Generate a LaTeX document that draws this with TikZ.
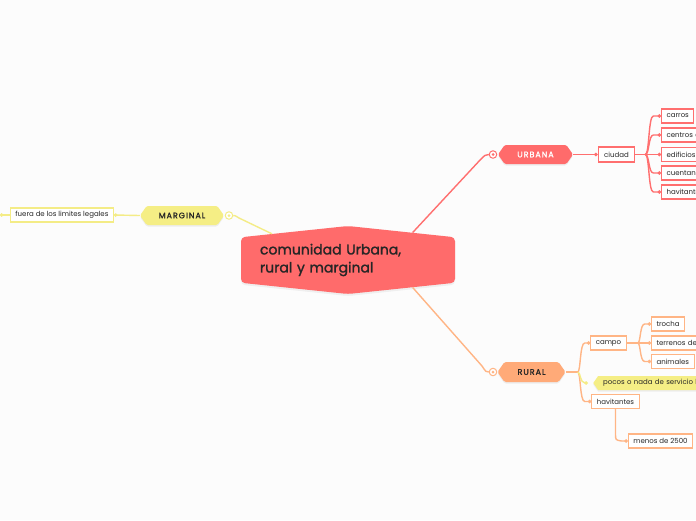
\documentclass[tikz,border=0pt]{standalone}
\usepackage{fontspec}
\setmainfont{Poppins}
\newfontfamily\capsfont[LetterSpace=12,FakeBold=1.2]{Poppins}
\newfontfamily\titlefont[FakeBold=1.5]{Poppins}
\usetikzlibrary{positioning,calc,arrows.meta,shapes.symbols,shadows}
\definecolor{bgcol}{HTML}{FCFCFC}
\definecolor{mred}{HTML}{FF6B6B}
\definecolor{mredl}{HTML}{FF6F6F}
\definecolor{morange}{HTML}{FFAA78}
\definecolor{morangel}{HTML}{FFB585}
\definecolor{myellow}{HTML}{F5EE85}
\definecolor{myellowl}{HTML}{F4EC86}
\definecolor{ink}{HTML}{262626}
\tikzset{
  rwire/.style  = {draw=mredl, line width=1.4pt},
  owire/.style  = {draw=morangel, line width=1.4pt},
  ywire/.style  = {draw=myellowl, line width=1.4pt},
  dtip/.style   = {-{Circle[length=3.4pt]}},
  hexn/.style   = {signal, signal to=east and west, signal pointer angle=110,
                   rounded corners=1.5pt, inner sep=0pt, minimum height=19pt,
                   font=\capsfont\fontsize{8}{9}\selectfont,
                   drop shadow={opacity=0.12, shadow xshift=0pt, shadow yshift=-1.5pt}},
  cnode/.style  = {signal, signal to=north and south, signal pointer angle=168,
                   fill=mred, rounded corners=4pt, minimum width=214pt,
                   minimum height=68pt, text width=176pt, align=left,
                   inner xsep=19pt, text=ink, font=\titlefont\fontsize{14}{18}\selectfont,
                   drop shadow={opacity=0.10, shadow xshift=0pt, shadow yshift=-2pt}},
  tbox/.style   = {draw=#1, fill=white, line width=1.1pt, inner xsep=5pt,
                   inner ysep=0pt, minimum height=14pt, text=ink,
                   font=\fontsize{7}{8}\selectfont},
  wbox/.style   = {tbox=#1, text width=62pt, align=left},
  ring/.style   = {circle, draw=#1, fill=white, line width=1pt,
                   inner sep=0pt, minimum size=7.5pt},
}
\begin{document}
\begin{tikzpicture}[x=1pt,y=-1pt]
  \useasboundingbox[fill=bgcol] (0,0) rectangle (696,520);
  % centre
  \node[cnode] (cen) at (348,260) {comunidad Urbana,\\rural y marginal};
  % URBANA branch
  \node[hexn, fill=mred, text=white, minimum width=75pt] (urbana) at (535.5,154.5) {URBANA};
  \node[ring=mredl] (urr) at (493,154.5) {};
  \fill[mredl] (urr) circle (1.5);
  \draw[rwire] (cen.23) -- (481,159) .. controls (485,155) .. (urr.west);
  \node[tbox=mredl, inner xsep=6pt, minimum height=15pt] (ciudad) at (616.5,154.5) {ciudad};
  \draw[rwire, dtip] (urbana.east) -- (ciudad.west);
  \node[tbox=mredl, anchor=west] (carros) at (661,116) {carros};
  \node[wbox=mredl, anchor=west] (centros) at (661,135) {centros c};
  \node[tbox=mredl, anchor=west] (edificios) at (661,154.5) {edificios};
  \node[wbox=mredl, anchor=west] (cuentan) at (661,173) {cuentan c};
  \node[wbox=mredl, anchor=west] (havu) at (661,192) {havitante};
  \coordinate (uf) at ($(ciudad.east)+(10,0)$);
  \draw[rwire] (ciudad.east) -- (uf);
  \foreach \n in {carros,centros,edificios,cuentan,havu}
    \draw[rwire, dtip] (uf) .. controls ($(uf)+(4,0)$) and ($(uf|-\n.west)+(3,0)$)
      .. ($(uf|-\n.west)+(8,0)$) -- (\n.west);
  % RURAL branch
  \node[hexn, fill=morange, text=ink, minimum width=68pt, minimum height=20pt] (rural) at (531.5,372) {RURAL};
  \node[ring=morangel] (rur) at (493,372) {};
  \fill[morangel] (rur) circle (1.5);
  \draw[owire] (cen.-23) -- (482,366) .. controls (486,372) .. (rur.west);
  \node[tbox=morangel] (campo) at (608.5,343) {campo};
  \node[tbox=morangel, anchor=west] (trocha) at (651,324) {trocha};
  \node[wbox=morangel, anchor=west] (terrenos) at (651,343) {terrenos de};
  \node[tbox=morangel, anchor=west] (animales) at (651,361.5) {animales};
  \node[signal, signal to=west, signal pointer angle=110, fill=myellow, anchor=west,
        inner xsep=5pt, inner ysep=0pt, minimum height=14pt, text width=110pt,
        align=left, text=ink, font=\fontsize{7}{8}\selectfont,
        drop shadow={opacity=0.12, shadow xshift=0pt, shadow yshift=-1.5pt}]
        (pocos) at (593,383) {pocos o nada de servicio b};
  \node[tbox=morangel] (havr) at (615.5,401.5) {havitantes};
  \node[tbox=morangel] (menos) at (660.5,441) {menos de 2500};
  \coordinate (rf) at ($(rural.east)+(12,0)$);
  \draw[owire] (rural.east) -- (rf);
  \draw[owire, dtip] (rf) .. controls ($(rf)+(3,0)$) and ($(rf|-campo.west)+(2,0)$)
    .. ($(rf|-campo.west)+(7,0)$) -- (campo.west);
  \draw[owire, dtip] (rf) .. controls ($(rf)+(3,0)$) and ($(rf|-havr.west)+(2,0)$)
    .. ($(rf|-havr.west)+(7,0)$) -- (havr.west);
  \draw[ywire, dtip] (rf) .. controls ($(rf)+(3,0)$) and ($(rf|-pocos.west)+(2,0)$)
    .. ($(rf|-pocos.west)+(10,0)$);
  \coordinate (cf) at ($(campo.east)+(11,0)$);
  \draw[owire] (campo.east) -- (cf);
  \foreach \n in {trocha,terrenos,animales}
    \draw[owire, dtip] (cf) .. controls ($(cf)+(3,0)$) and ($(cf|-\n.west)+(2,0)$)
      .. ($(cf|-\n.west)+(7,0)$) -- (\n.west);
  \draw[owire, dtip] (havr.south) -- ($(havr.south|-menos.west)+(0,-7)$)
    .. controls ($(havr.south|-menos.west)+(0,-1)$) .. ($(havr.south|-menos.west)+(6,0)$)
    -- (menos.west);
  % MARGINAL branch
  \node[hexn, fill=myellow, text=ink, minimum width=84pt] (marginal) at (182,215.5) {MARGINAL};
  \node[ring=myellowl] (mar) at (229,215.5) {};
  \fill[myellowl] (mar) circle (1.5);
  \draw[ywire] (cen.161) -- (239,218) .. controls (235,215.5) .. (mar.east);
  \node[tbox=myellowl, anchor=east] (fuera) at (114,215) {fuera de los limites legales};
  \draw[ywire, dtip] (marginal.west) -- (fuera.east);
  \coordinate (fl) at (0,215);
  \draw[ywire, dtip] (fuera.west) -- (fl);
\end{tikzpicture}
\end{document}
